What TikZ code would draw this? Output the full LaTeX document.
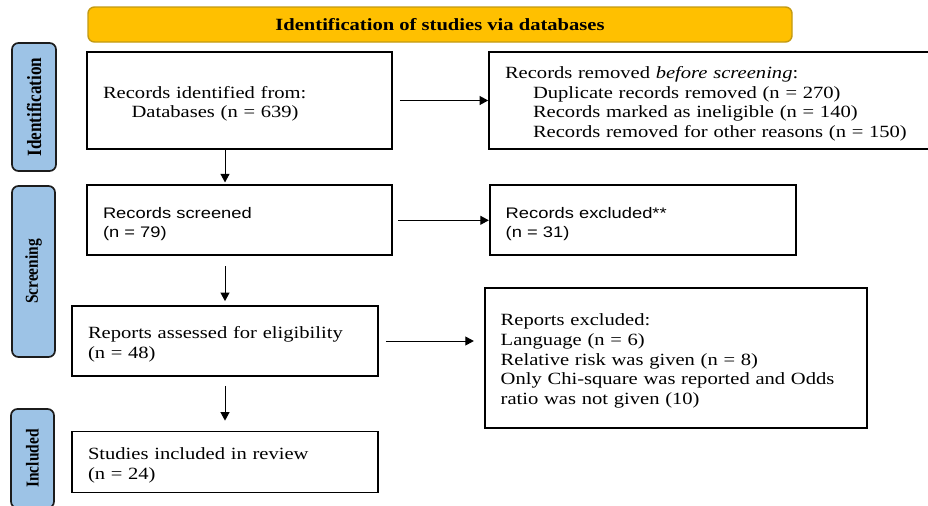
\documentclass[tikz,border=0pt]{standalone}
\usepackage{fontspec}
\setmainfont{Liberation Serif}[FakeStretch=1.2]
\setsansfont{Liberation Sans}[FakeStretch=1.2]
\newfontfamily\phasefont{Liberation Serif}
\usepackage{tikz}
\usetikzlibrary{arrows.meta,calc}
\newlength{\unitpx}
\setlength{\unitpx}{0.7pt}
\definecolor{bannergold}{HTML}{FFC000}
\definecolor{bannerline}{HTML}{C39A12}
\definecolor{phaseblue}{HTML}{9DC3E6}
\definecolor{phaseline}{HTML}{1C1C1C}
\newcommand{\phasetext}[1]{\scalebox{1}[1.18]{#1}}
\tikzset{
  flowarrow/.style={-{Triangle[length=6pt, width=6.3pt]}, line width=0.7pt},
  banner/.style={draw=bannerline, line width=1pt, fill=bannergold, rounded corners=4.5pt, font=\bfseries\fontsize{12}{14}\selectfont},
  phase/.style={draw=phaseline, line width=1.2pt, fill=phaseblue, rounded corners=4.5pt, rotate=90, inner sep=0pt, font=\phasefont\bfseries\fontsize{10.8}{12}\selectfont},
  recbox/.style={draw, line width=1.2pt, fill=white, align=left, inner xsep=16\unitpx, inner ysep=0pt,
    execute at begin node={\rule{0pt}{13pt}}, font=\fontsize{12}{13.8}\selectfont},
  sansbox/.style={recbox, font=\sffamily\fontsize{10.7}{13.3}\selectfont}
}

\begin{document}
\begin{tikzpicture}[x=\unitpx, y=-\unitpx]
  \clip (0,0) rectangle (928,505);
  % header and phase labels
  \node[banner, minimum width=704\unitpx, minimum height=35\unitpx] (title) at (440,24.5) {Identification of studies via databases};
  \node[phase, minimum width=128\unitpx, minimum height=44\unitpx, font=\phasefont\bfseries\fontsize{12}{13}\selectfont] (idphase) at (34,107) {\phasetext{Identification}};
  \node[phase, minimum width=171\unitpx, minimum height=43\unitpx] (scphase) at (33.5,271.5) {\phasetext{Screening}};
  \node[phase, minimum width=99\unitpx, minimum height=43\unitpx] (inphase) at (32.5,458.5) {\phasetext{Included}};

  % records
  \node[recbox, text width=273\unitpx, minimum height=97\unitpx] (ident) at (239.5,100.5)
    {Records identified from:\\\hspace*{20pt}Databases (n = 639)};
  \node[recbox, text width=428\unitpx, minimum height=97\unitpx] (removed) at (719,100.5)
    {Records removed \textit{before screening}:\\
     \hspace*{19.6pt}Duplicate records removed (n = 270)\\
     \hspace*{19.6pt}Records marked as ineligible (n = 140)\\
     \hspace*{19.6pt}Records removed for other reasons (n = 150)};
  \node[sansbox, text width=273\unitpx, minimum height=70\unitpx] (screened) at (239.5,220.3)
    {Records screened\\(n = 79)};
  \node[sansbox, text width=274\unitpx, minimum height=70\unitpx] (excluded) at (642.7,220.3)
    {Records excluded**\\(n = 31)};
  \node[recbox, text width=274\unitpx, minimum height=70\unitpx] (assessed) at (225,341)
    {Reports assessed for eligibility\\(n = 48)};
  \node[recbox, text width=350\unitpx, minimum height=140\unitpx] (reportsx) at (675.7,357.7)
    {Reports excluded:\\
     Language (n = 6)\\
     Relative risk was given (n = 8)\\
     Only Chi-square was reported and Odds\\
     ratio was not given (10)};
  \node[recbox, text width=274\unitpx, minimum height=61\unitpx] (included) at (225,462)
    {Studies included in review\\(n = 24)};

  % flow
  \draw[flowarrow, shorten <=7\unitpx] (ident.east) -- (removed.west);
  \draw[flowarrow, shorten >=2\unitpx] (ident.south -| assessed) -- (screened.north -| assessed);
  \draw[flowarrow, shorten <=5\unitpx] (screened.east) -- (excluded.west);
  \draw[flowarrow, shorten <=10\unitpx, shorten >=4\unitpx] (screened.south -| assessed) -- (assessed.north);
  \draw[flowarrow, shorten <=7\unitpx, shorten >=10\unitpx] (assessed.east) -- (assessed.east -| reportsx.west);
  \draw[flowarrow, shorten <=9\unitpx, shorten >=10\unitpx] (assessed.south) -- (included.north);
\end{tikzpicture}
\end{document}
